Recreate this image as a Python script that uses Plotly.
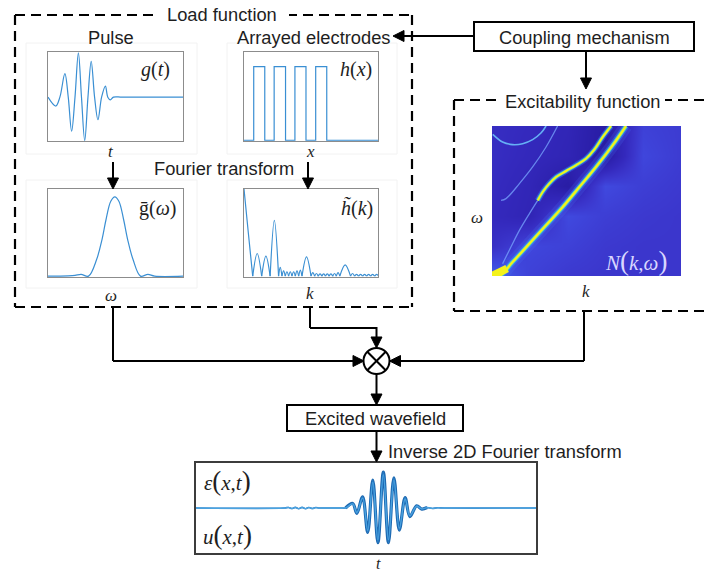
import plotly.graph_objects as go

W, H = 707, 571

# ---------------- data ----------------
# g(t): excitation pulse, extrema and zero crossings
pulse_t = [0.0, 0.575, 0.88, 1.25, 1.5, 1.75, 2.0, 2.25, 2.48, 2.72, 2.96, 3.2,
           3.45, 3.7, 3.97, 4.25, 4.43, 4.62, 4.85, 5.5, 10.0]
pulse_g = [0.0, -0.2, 0.0, 0.53, 0.0, -0.77, 0.0, 1.0, 0.0, -0.98, 0.0, 0.81,
           0.0, -0.51, 0.0, 0.25, 0.0, -0.06, 0.0, 0.0, 0.0]

# h(x): arrayed electrodes (left/right edges of each finger)
electrode_left = [0.725, 2.25, 3.8, 5.35]
electrode_right = [1.55, 3.1, 4.625, 6.175]
electrode_height = 1.0

# g-bar(omega): pulse spectrum
spectrum_w = [0.0, 1.5, 2.0, 2.45, 3.0, 3.6, 4.0, 4.3, 4.65, 4.95, 5.25, 5.6,
              5.9, 6.3, 6.85, 7.4, 7.9, 10.0]
spectrum_g = [0.0, 0.003, 0.008, 0.02, 0.0, 0.19, 0.42, 0.65, 0.86, 0.91, 0.86,
              0.65, 0.42, 0.19, 0.0, 0.02, 0.0, 0.0]

# h-tilde(k): wavenumber spectrum of the electrode array
htilde_main_k = [0.0, 0.32, 0.65]
htilde_main_v = [1.0, 0.5, 0.0]
htilde_zeros = [0.65, 1.32, 1.95, 2.58, 2.83, 3.08, 3.33, 3.58, 3.83, 4.08, 4.33,
                5.0, 5.27, 5.54, 5.81, 6.08, 6.35, 6.62, 6.89, 7.15, 7.95, 8.25,
                8.55, 8.85, 9.15, 9.45, 9.75, 10.05]
htilde_peaks = [0.26, 0.23, 0.64, 0.1, 0.06, 0.05, 0.05, 0.05, 0.06, 0.07, 0.22,
                0.04, 0.03, 0.025, 0.025, 0.025, 0.025, 0.03, 0.04, 0.13, 0.03,
                0.02, 0.02, 0.02, 0.02, 0.02, 0.02]

# N(k, omega): background level on a coarse grid
heat_k = [0.0, 0.2, 0.4, 0.6, 0.8, 1.0]
heat_w = [0.0, 0.2, 0.4, 0.6, 0.8, 1.0]
heat_z = [
    [0.50, 0.40, 0.37, 0.36, 0.36, 0.36],
    [0.33, 0.42, 0.40, 0.37, 0.36, 0.36],
    [0.30, 0.26, 0.43, 0.39, 0.37, 0.36],
    [0.31, 0.27, 0.18, 0.43, 0.39, 0.37],
    [0.32, 0.29, 0.26, 0.17, 0.42, 0.38],
    [0.32, 0.30, 0.27, 0.18, 0.40, 0.38],
]
# dispersion branches (k, omega)
branch_a_k = [0.0, 0.039, 0.109, 0.198, 0.286, 0.374, 0.462, 0.55, 0.638, 0.709]
branch_a_w = [0.0, 0.0, 0.093, 0.216, 0.338, 0.46, 0.593, 0.727, 0.871, 1.0]
branch_b_k = [0.242, 0.268, 0.303, 0.339, 0.392, 0.444, 0.497, 0.541, 0.586, 0.63]
branch_b_w = [0.504, 0.56, 0.616, 0.66, 0.70, 0.738, 0.782, 0.842, 0.927, 1.0]
branch_b_tail_k = [0.056, 0.10, 0.145, 0.198, 0.242]
branch_b_tail_w = [0.082, 0.193, 0.304, 0.416, 0.504]
branch_c_k = [0.048, 0.074, 0.145, 0.215, 0.286, 0.347]
branch_c_w = [0.504, 0.516, 0.616, 0.727, 0.86, 1.0]
branch_d_k = [0.004, 0.056, 0.109, 0.162, 0.215, 0.259, 0.286]
branch_d_w = [0.944, 0.893, 0.876, 0.882, 0.909, 0.953, 1.0]
blob_k = [0.0, 0.04, 0.08]
blob_w = [0.0, 0.02, 0.05]

# excited wavefield: strain and displacement traces
wave_t = [0.0, 2.6, 2.72, 2.82, 2.92, 3.02, 3.12, 3.22, 3.32, 3.42, 3.52, 3.62,
          3.75, 4.3, 4.4, 4.61, 4.73, 4.9, 5.05, 5.2, 5.35, 5.51, 5.66, 5.82,
          5.98, 6.15, 6.29, 6.49, 6.64, 6.8, 6.95, 7.1, 7.3, 10.0]
wave_eps = [0.0, 0.0, 0.012, -0.012, 0.015, -0.015, 0.015, -0.015, 0.012, -0.012,
            0.01, 0.0, 0.0, 0.0, 0.0, 0.09, -0.1, 0.22, -0.5, 0.57, -0.71, 0.74,
            -0.71, 0.62, -0.45, 0.2, -0.17, 0.04, -0.02, 0.01, -0.01, 0.005, 0.0, 0.0]
wave_u = [0.0, 0.0, 0.012, -0.012, 0.015, -0.015, 0.015, -0.015, 0.012, -0.012,
          0.01, 0.0, 0.0, 0.0, 0.0, 0.1, -0.12, 0.25, -0.54, 0.62, -0.77, 0.8,
          -0.77, 0.67, -0.49, 0.23, -0.19, 0.05, -0.025, 0.01, -0.01, 0.005, 0.0, 0.0]
packet_start, packet_end = 4.4, 6.8   # span drawn with the heavier outline

# ---------------- helpers ----------------
def px(x):
    return x / W


def py(y):
    return 1 - y / H


BLUE = "#3a8fd3"
SANS = "Liberation Sans, Arial, sans-serif"
SERIF = "Liberation Serif, Times New Roman, serif"
INK = "#1e1e1e"
SANS_SIZE = 18.3

fig = go.Figure()

# g(t)
fig.add_trace(go.Scatter(x=pulse_t, y=pulse_g, mode="lines", line=dict(color=BLUE, width=1.2, shape="spline"),
                         xaxis="x", yaxis="y", hoverinfo="skip"))
# h(x)
hx, hy = [0.0], [0.0]
for l, r in zip(electrode_left, electrode_right):
    hx += [l, l, r, r]
    hy += [0.0, electrode_height, electrode_height, 0.0]
hx.append(10.0)
hy.append(0.0)
fig.add_trace(go.Scatter(x=hx, y=hy, mode="lines", line=dict(color=BLUE, width=1.2),
                         xaxis="x2", yaxis="y2", hoverinfo="skip"))
# g-bar(omega)
fig.add_trace(go.Scatter(x=spectrum_w, y=spectrum_g, mode="lines", line=dict(color=BLUE, width=1.2, shape="spline"),
                         xaxis="x3", yaxis="y3", hoverinfo="skip"))
# h-tilde(k): main lobe then side lobes, one arc per lobe
kx = list(htilde_main_k) + [None]
ky = list(htilde_main_v) + [None]
for i, p in enumerate(htilde_peaks):
    a, b = htilde_zeros[i], htilde_zeros[i + 1]
    kx += [a, (a + b) / 2, b, None]
    ky += [0.0, p, 0.0, None]
fig.add_trace(go.Scatter(x=kx, y=ky, mode="lines", line=dict(color=BLUE, width=1.2, shape="spline"),
                         connectgaps=False, xaxis="x4", yaxis="y4", hoverinfo="skip"))

# N(k, omega)
fig.add_trace(go.Heatmap(x=heat_k, y=heat_w, z=heat_z, zmin=0, zmax=1, zsmooth="best", showscale=False,
                         colorscale=[[0, "#1c1080"], [0.2, "#2a1ea8"], [0.3, "#3429bd"], [0.36, "#3b36cc"],
                                     [0.42, "#3f46dc"], [0.5, "#3f62ea"], [0.65, "#3aa6f0"],
                                     [0.8, "#58e0b8"], [0.92, "#c8f23a"], [1, "#f8f41c"]],
                         xaxis="x5", yaxis="y5", hoverinfo="skip"))
# soft halo along the main branch
fig.add_trace(go.Scatter(x=branch_a_k, y=branch_a_w, mode="lines",
                         line=dict(color="rgba(80,120,250,0.18)", width=13, shape="spline"),
                         xaxis="x5", yaxis="y5", hoverinfo="skip"))
for kk, ww in [(branch_b_tail_k, branch_b_tail_w), (branch_c_k, branch_c_w)]:
    fig.add_trace(go.Scatter(x=kk, y=ww, mode="lines", line=dict(color="rgba(120,165,255,0.75)", width=1.3, shape="spline"),
                             xaxis="x5", yaxis="y5", hoverinfo="skip"))
fig.add_trace(go.Scatter(x=branch_d_k, y=branch_d_w, mode="lines",
                         line=dict(color="rgba(110,200,255,0.85)", width=1.6, shape="spline"),
                         xaxis="x5", yaxis="y5", hoverinfo="skip"))
for kk, ww, scale in [(branch_a_k, branch_a_w, 1.0), (branch_b_k, branch_b_w, 0.85)]:
    for col, wd in [("rgba(60,130,255,0.4)", 7), ("rgba(60,210,210,0.9)", 4.2), ("#f4f21a", 2.4)]:
        fig.add_trace(go.Scatter(x=kk, y=ww, mode="lines", line=dict(color=col, width=wd * scale, shape="spline"),
                                 xaxis="x5", yaxis="y5", hoverinfo="skip"))
fig.add_trace(go.Scatter(x=blob_k, y=blob_w, mode="lines", line=dict(color="#f4f21a", width=8),
                         xaxis="x5", yaxis="y5", hoverinfo="skip"))

# excited wavefield: heavier outline over the packet, then both traces
sel = [i for i, t in enumerate(wave_t) if packet_start <= t <= packet_end]
fig.add_trace(go.Scatter(x=[wave_t[i] for i in sel], y=[wave_u[i] for i in sel], mode="lines",
                         line=dict(color="#1d68b0", width=3.2, shape="spline"),
                         xaxis="x6", yaxis="y6", hoverinfo="skip"))
fig.add_trace(go.Scatter(x=wave_t, y=wave_u, mode="lines", line=dict(color="#2a7cc4", width=1.6, shape="spline"),
                         xaxis="x6", yaxis="y6", hoverinfo="skip"))
fig.add_trace(go.Scatter(x=wave_t, y=wave_eps, mode="lines", line=dict(color="#4ba3e0", width=1.3, shape="spline"),
                         xaxis="x6", yaxis="y6", hoverinfo="skip"))


def frame_axis(dom, rng, color="#8c8c8c", lw=1.3, show=True):
    return dict(domain=dom, range=rng, showline=show, mirror=show, linecolor=color, linewidth=lw,
                showticklabels=False, showgrid=False, zeroline=False, ticks="", fixedrange=True)


def xdom(a, b):
    return [px(a), px(b)]


def ydom(top, bottom):
    return [py(bottom), py(top)]


layout_axes = dict(
    xaxis=frame_axis(xdom(48, 183), [0, 10]),
    yaxis=frame_axis(ydom(52, 141), [-0.99, 1.02]),
    xaxis2=frame_axis(xdom(244, 378), [0, 10]),
    yaxis2=frame_axis(ydom(52, 141), [-0.01, 1.2]),
    xaxis3=frame_axis(xdom(48, 183), [0, 10]),
    yaxis3=frame_axis(ydom(189, 277), [-0.01, 1.0]),
    xaxis4=frame_axis(xdom(244, 378), [0, 10]),
    yaxis4=frame_axis(ydom(189, 277), [-0.01, 1.0]),
    xaxis5=frame_axis(xdom(492, 681), [0, 1], show=False),
    yaxis5=frame_axis(ydom(126, 276), [0, 1], show=False),
    xaxis6=frame_axis(xdom(196, 536), [0, 10], color="#3c3c3c", lw=1.5),
    yaxis6=frame_axis(ydom(463, 553), [-1, 1], color="#3c3c3c", lw=1.5),
)
for i in range(2, 7):
    layout_axes["xaxis%d" % i]["anchor"] = "y%d" % i
    layout_axes["yaxis%d" % i]["anchor"] = "x%d" % i
layout_axes["xaxis"]["anchor"] = "y"
layout_axes["yaxis"]["anchor"] = "x"

shapes = []


def line(x0, y0, x1, y1, width=2.2, color="black", dash=None):
    d = dict(color=color, width=width)
    if dash:
        d["dash"] = dash
    shapes.append(dict(type="line", xref="paper", yref="paper", x0=px(x0), y0=py(y0), x1=px(x1), y1=py(y1), line=d))


def rect(x0, y0, x1, y1, width=2.2, color="black", fill=None):
    s = dict(type="rect", xref="paper", yref="paper", x0=px(x0), y0=py(y0), x1=px(x1), y1=py(y1),
             line=dict(color=color, width=width))
    if fill:
        s["fillcolor"] = fill
    shapes.append(s)


def head(tx, ty, direction, L=11, half=5.5):
    if direction == "down":
        pts = [(tx, ty), (tx - half, ty - L), (tx + half, ty - L)]
    elif direction == "up":
        pts = [(tx, ty), (tx - half, ty + L), (tx + half, ty + L)]
    elif direction == "left":
        pts = [(tx, ty), (tx + L, ty - half), (tx + L, ty + half)]
    else:
        pts = [(tx, ty), (tx - L, ty - half), (tx - L, ty + half)]
    path = "M " + " L ".join("%.5f,%.5f" % (px(a), py(b)) for a, b in pts) + " Z"
    shapes.append(dict(type="path", xref="paper", yref="paper", path=path, fillcolor="black",
                       line=dict(color="black", width=1)))


DASH = "10px,6px"

# faint sub-figure frames
for (a, b, c, d) in [(26, 43, 197, 154), (227, 43, 397, 154), (26, 180, 197, 288), (227, 180, 397, 288)]:
    rect(a, b, c, d, width=1, color="#f2f2f2")

# load function box
line(15, 15, 412, 15, dash=DASH)
line(15, 15, 15, 307, dash=DASH)
line(15, 307, 412, 307, dash=DASH)
line(412, 15, 412, 307, dash=DASH)
rect(155, 5, 289, 25, width=0, color="white", fill="white")

# excitability function box (open on the right)
line(454, 100, 712, 100, dash=DASH)
line(454, 100, 454, 311, dash=DASH)
line(454, 311, 712, 311, dash=DASH)
rect(497, 90, 665, 111, width=0, color="white", fill="white")

# coupling mechanism box and arrows
rect(474, 22, 694, 51, width=2)
line(474, 36, 400, 36, width=2)
head(393, 36, "left")
line(586, 51, 586, 80, width=2)
head(586, 89, "down")

# Fourier transform arrows
line(113, 162, 113, 180, width=2)
head(113, 189, "down")
line(308, 162, 308, 180, width=2)
head(308, 189, "down")

# connections into the multiplier
CX, CY, R = 376.5, 361, 13
line(113, 307, 113, 361, width=2)
line(113, 361, 357, 361, width=2)
head(364, 361, "right")
line(310, 307, 310, 328, width=2)
line(310, 328, CX, 328, width=2)
line(CX, 327, CX, 340, width=2)
head(CX, 348, "down")
line(584, 311, 584, 361, width=2)
line(584, 361, 396, 361, width=2)
head(389.5, 361, "left")
shapes.append(dict(type="circle", xref="paper", yref="paper", x0=px(CX - R), x1=px(CX + R),
                   y0=py(CY + R), y1=py(CY - R), line=dict(color="black", width=2), fillcolor="white"))
dd = R * 0.707
line(CX - dd, CY - dd, CX + dd, CY + dd, width=2)
line(CX - dd, CY + dd, CX + dd, CY - dd, width=2)
line(CX, CY + R, CX, 397, width=2)
head(CX, 405, "down")

# excited wavefield box and inverse transform arrow
rect(287, 405, 463, 431, width=2)
line(CX, 431, CX, 453, width=2)
head(CX, 462, "down")

annotations = []


def text(x, y, s, size=SANS_SIZE, font=SANS, color=INK, anchor="center"):
    annotations.append(dict(x=px(x), y=py(y), xref="paper", yref="paper", text=s, showarrow=False,
                            xanchor=anchor, yanchor="middle", font=dict(family=font, size=size, color=color)))


def big(ch, size):
    return "<span style='font-size:%dpx'>%s</span>" % (size, ch)


text(222, 14, "Load function")
text(111, 37, "Pulse")
text(313, 37, "Arrayed electrodes")
text(224, 168, "Fourier transform")
text(584, 37, "Coupling mechanism")
text(582, 101, "Excitability function")
text(375, 418, "Excited wavefield")
text(386, 451, "Inverse 2D Fourier transform", anchor="left")

text(155, 70, "<i>g</i>(<i>t</i>)", size=20, font=SERIF)
text(356, 70, "<i>h</i>(<i>x</i>)", size=20, font=SERIF)
text(157, 208, "g\u0304(<i>\u03c9</i>)", size=20, font=SERIF)
text(357, 208, "<i>h\u0303</i>(<i>k</i>)", size=20, font=SERIF)
text(111, 151, "<i>t</i>", size=17, font=SERIF)
text(310, 151, "<i>x</i>", size=17, font=SERIF)
text(111, 296, "<i>\u03c9</i>", size=17, font=SERIF)
text(310, 293, "<i>k</i>", size=17, font=SERIF)
text(477, 217, "<i>\u03c9</i>", size=17, font=SERIF)
text(586, 291, "<i>k</i>", size=17, font=SERIF)
text(636, 261, "<i>N</i>" + big("(", 27) + "<i>k</i>,<i>\u03c9</i>" + big(")", 27), size=21, font=SERIF,
     color="#d8d6ff")
text(228, 481, "<i>\u03b5</i>" + big("(", 27) + "<i>x</i>,<i>t</i>" + big(")", 27), size=21, font=SERIF)
text(228, 535, "<i>u</i>" + big("(", 27) + "<i>x</i>,<i>t</i>" + big(")", 27), size=21, font=SERIF)
text(378, 563, "<i>t</i>", size=16, font=SERIF)

fig.update_layout(width=W, height=H, margin=dict(l=0, r=0, t=0, b=0), paper_bgcolor="white",
                  plot_bgcolor="white", showlegend=False, shapes=shapes, annotations=annotations,
                  **layout_axes)

fig.write_html("out.html")
